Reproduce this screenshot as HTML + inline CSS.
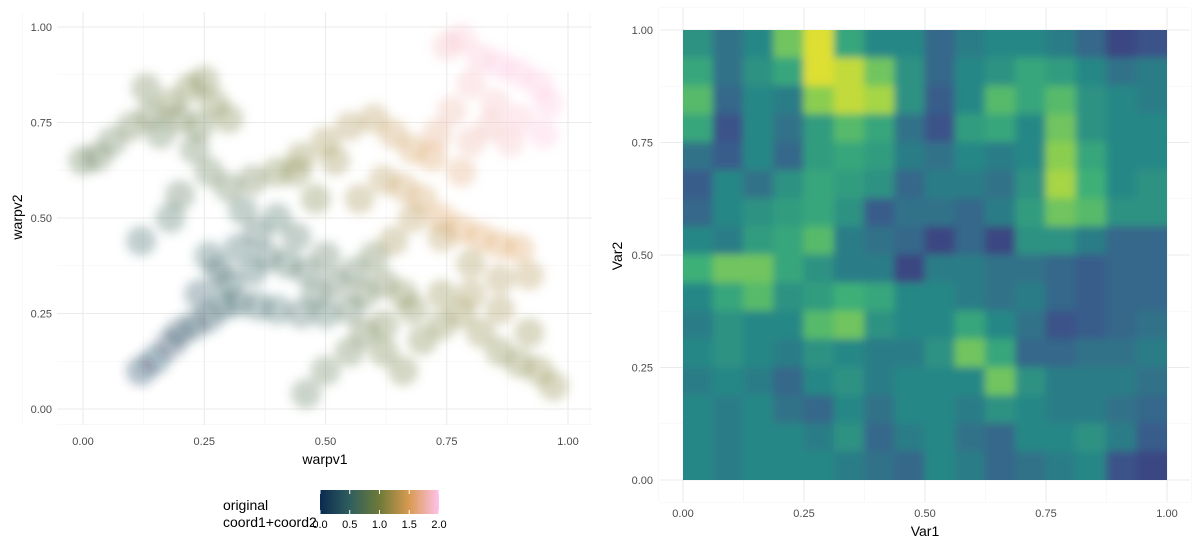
<!DOCTYPE html>
<html><head><meta charset="utf-8"><style>
body{margin:0;background:#fff;font-family:"Liberation Sans",sans-serif;}
svg{display:block}
text{font-family:"Liberation Sans",sans-serif}
</style></head><body>
<svg id="chart" width="1200" height="550">
<defs>
<filter id="blur" x="-0.05" y="-0.05" width="1.1" height="1.1"><feGaussianBlur stdDeviation="4"/></filter>
<filter id="pblur" x="-0.1" y="-0.1" width="1.2" height="1.2"><feGaussianBlur stdDeviation="5"/></filter>
<clipPath id="hmclip"><rect x="683" y="30" width="484" height="450"/></clipPath>
<linearGradient id="lg" x1="0" x2="1" y1="0" y2="0">
<stop offset="0" stop-color="#0b2a50"/><stop offset="0.25" stop-color="#2f5e5e"/><stop offset="0.5" stop-color="#6e7a38"/><stop offset="0.75" stop-color="#d99a52"/><stop offset="1" stop-color="#ffc2ea"/>
</linearGradient>
</defs>
<g id="left-grid"></g>
<g id="points" filter="url(#pblur)"></g>
<g id="left-axes"></g>
<g id="right-grid"></g>
<g clip-path="url(#hmclip)"><g id="heatbase"></g><g id="heat" filter="url(#blur)"></g></g>
<g id="right-axes"></g>
<g>
<text x="223" y="510" font-size="14" fill="#000">original</text>
<text x="223" y="527" font-size="14" fill="#000">coord1+coord2</text>
<rect x="320" y="490" width="119" height="24" fill="url(#lg)"/>
<g id="legend-ticks"></g>
</g>
</svg>
<script>
const NS="http://www.w3.org/2000/svg";
const xTicks=[0,0.25,0.5,0.75,1];
const xTickLabels=["0.00","0.25","0.50","0.75","1.00"];
const legendTicks=[0,0.5,1,1.5,2];
const legendLabels=["0.0","0.5","1.0","1.5","2.0"];
// scatter points: warpv1, warpv2, colour value
const ptX=[0.0,0.03,0.06,0.1,0.14,0.18,0.22,0.25,0.2,0.13,0.16,0.24,0.27,0.23,0.3,0.18,0.12,0.2,0.26,
0.12,0.15,0.18,0.2,0.23,0.26,0.29,0.32,0.36,0.4,0.45,0.5,0.55,0.58,0.62,0.66,
0.24,0.28,0.32,0.36,0.4,0.44,0.35,0.38,0.3,0.26,0.33,0.42,0.46,0.5,0.48,0.52,0.56,0.6,
0.3,0.35,0.4,0.45,0.5,0.55,0.6,0.64,0.68,0.72,0.62,0.57,0.48,0.44,0.52,
0.75,0.78,0.82,0.86,0.9,0.94,0.96,0.8,0.85,0.9,0.76,0.73,0.8,0.88,0.95,0.84,0.78,
0.66,0.7,0.74,0.78,0.82,0.86,0.9,0.92,0.86,0.8,0.74,0.68,0.64,
0.58,0.62,0.66,0.7,0.74,0.78,0.82,0.86,0.9,0.94,0.97,0.92,0.86,0.8,0.74,0.68,0.62,0.55,0.5,0.46];
const ptY=[0.65,0.66,0.7,0.74,0.77,0.8,0.84,0.86,0.76,0.84,0.72,0.74,0.8,0.68,0.76,0.5,0.44,0.56,0.62,
0.1,0.13,0.17,0.2,0.22,0.24,0.27,0.28,0.27,0.26,0.25,0.25,0.26,0.3,0.33,0.3,
0.3,0.36,0.42,0.46,0.5,0.45,0.36,0.4,0.33,0.4,0.52,0.38,0.36,0.4,0.3,0.33,0.36,0.4,
0.58,0.6,0.62,0.66,0.7,0.74,0.76,0.72,0.68,0.66,0.6,0.55,0.55,0.62,0.65,
0.95,0.97,0.92,0.9,0.88,0.85,0.8,0.85,0.8,0.76,0.78,0.72,0.7,0.7,0.72,0.74,0.62,
0.58,0.55,0.5,0.47,0.45,0.43,0.42,0.35,0.34,0.38,0.45,0.5,0.44,
0.2,0.15,0.1,0.18,0.22,0.25,0.2,0.15,0.12,0.1,0.06,0.2,0.26,0.3,0.3,0.26,0.22,0.15,0.1,0.04];
const ptC=[0.8,0.8,0.8,0.9,0.9,1.0,1.0,1.0,0.9,0.9,0.8,0.9,1.0,0.8,1.0,0.6,0.5,0.7,0.8,
0.05,0.1,0.15,0.2,0.25,0.3,0.35,0.4,0.45,0.5,0.55,0.6,0.7,0.8,0.9,1.0,
0.3,0.4,0.5,0.55,0.6,0.65,0.5,0.55,0.45,0.45,0.6,0.6,0.65,0.7,0.65,0.7,0.75,0.85,
0.8,0.9,1.0,1.1,1.2,1.25,1.3,1.4,1.45,1.5,1.3,1.2,1.0,1.05,1.15,
1.85,1.9,1.9,1.95,1.95,1.95,1.95,1.85,1.85,1.9,1.75,1.65,1.75,1.85,1.95,1.8,1.6,
1.4,1.45,1.5,1.5,1.5,1.5,1.5,1.3,1.25,1.2,1.3,1.3,1.2,
0.9,0.95,1.0,1.0,1.05,1.1,1.1,1.05,1.05,1.1,1.1,1.1,1.2,1.2,1.1,1.0,0.95,0.85,0.8,0.75];
// heatmap values, rows from top (Var2=1) to bottom, 16x16
const heatRows=[
[0.5,0.35,0.45,0.75,0.95,0.6,0.45,0.45,0.3,0.4,0.45,0.45,0.4,0.3,0.15,0.2],
[0.6,0.35,0.5,0.6,0.95,0.9,0.75,0.5,0.3,0.45,0.5,0.6,0.55,0.45,0.35,0.4],
[0.7,0.3,0.45,0.4,0.8,0.9,0.85,0.5,0.25,0.45,0.7,0.6,0.7,0.5,0.45,0.4],
[0.6,0.2,0.45,0.35,0.55,0.7,0.6,0.35,0.2,0.55,0.6,0.45,0.75,0.5,0.45,0.45],
[0.35,0.25,0.45,0.3,0.55,0.6,0.55,0.4,0.35,0.45,0.4,0.45,0.8,0.6,0.45,0.45],
[0.25,0.45,0.35,0.5,0.6,0.55,0.5,0.3,0.4,0.4,0.35,0.5,0.85,0.65,0.45,0.5],
[0.3,0.45,0.5,0.55,0.6,0.5,0.25,0.35,0.35,0.3,0.4,0.55,0.75,0.7,0.5,0.5],
[0.45,0.4,0.55,0.6,0.7,0.4,0.35,0.3,0.15,0.3,0.15,0.5,0.5,0.4,0.3,0.3],
[0.65,0.75,0.75,0.6,0.5,0.4,0.4,0.15,0.4,0.4,0.35,0.35,0.3,0.25,0.3,0.3],
[0.45,0.6,0.7,0.5,0.55,0.65,0.6,0.45,0.45,0.4,0.35,0.4,0.3,0.25,0.3,0.3],
[0.4,0.5,0.45,0.45,0.7,0.75,0.5,0.45,0.45,0.6,0.45,0.35,0.2,0.25,0.3,0.35],
[0.45,0.5,0.45,0.4,0.5,0.45,0.4,0.4,0.5,0.75,0.6,0.3,0.3,0.35,0.35,0.4],
[0.4,0.45,0.4,0.3,0.45,0.5,0.4,0.45,0.45,0.45,0.75,0.5,0.4,0.4,0.4,0.35],
[0.45,0.4,0.45,0.35,0.3,0.45,0.35,0.45,0.45,0.4,0.5,0.45,0.4,0.4,0.35,0.3],
[0.45,0.4,0.45,0.45,0.4,0.5,0.3,0.4,0.45,0.35,0.3,0.45,0.45,0.5,0.4,0.25],
[0.45,0.4,0.45,0.45,0.45,0.4,0.35,0.3,0.45,0.4,0.3,0.35,0.4,0.45,0.2,0.15]];

function mk(tag,attrs,parent){const e=document.createElementNS(NS,tag);for(const k in attrs)e.setAttribute(k,attrs[k]);parent.appendChild(e);return e;}
function lerpColor(stops,v){
  for(let i=1;i<stops.length;i++){if(v<=stops[i][0]||i==stops.length-1){const a=stops[i-1],b=stops[i];let t=(v-a[0])/(b[0]-a[0]);t=Math.max(0,Math.min(1,t));
    const c=[0,1,2].map(j=>Math.round(a[1][j]+(b[1][j]-a[1][j])*t));return `rgb(${c})`;}}
}
const heatStops=[[0,[62,40,108]],[0.22,[58,86,140]],[0.45,[40,136,134]],[0.65,[60,176,120]],[0.82,[150,210,75]],[1,[248,228,38]]];
const ptStops=[[0,[11,42,80]],[0.5,[47,94,94]],[1,[110,122,56]],[1.5,[217,154,82]],[2,[255,194,234]]];

const lx=v=>83+v*485, ly=v=>409-v*382;
const lg=document.getElementById('left-grid');
for(const t of [-0.125,0.125,0.375,0.625,0.875,1.045]){const l=mk('line',{x1:lx(t),x2:lx(t),y1:12,y2:425,stroke:'#f3f3f3','stroke-width':0.6},lg);}
for(const t of [-0.04,0.125,0.375,0.625,0.875]){const l=mk('line',{y1:ly(t),y2:ly(t),x1:57,x2:592,stroke:'#f3f3f3','stroke-width':0.6},lg);}
xTicks.forEach((t,i)=>{
  const a=mk('line',{x1:lx(t),x2:lx(t),y1:12,y2:425,stroke:'#ebebeb','stroke-width':1.1},lg);
  const b=mk('line',{y1:ly(t),y2:ly(t),x1:57,x2:592,stroke:'#ebebeb','stroke-width':1.1},lg);
});
const la=document.getElementById('left-axes');
xTicks.forEach((t,i)=>{
  const a=mk('text',{x:lx(t),y:445,'font-size':11,fill:'#4d4d4d','text-anchor':'middle'},la);a.textContent=xTickLabels[i];
  const b=mk('text',{x:52,y:ly(t)+4,'font-size':11,fill:'#4d4d4d','text-anchor':'end'},la);b.textContent=xTickLabels[i];
});
let tt=mk('text',{x:325,y:464,'font-size':14,'text-anchor':'middle'},la);tt.textContent='warpv1';
tt=mk('text',{x:22,y:217,'font-size':14,'text-anchor':'middle',transform:'rotate(-90 22 217)'},la);tt.textContent='warpv2';

const pg=document.getElementById('points');
for(let i=0;i<ptX.length;i++){
  const c=mk('circle',{cx:lx(ptX[i]),cy:ly(ptY[i]),r:15,fill:lerpColor(ptStops,ptC[i]),'fill-opacity':0.3},pg);
  
  
}

const rx=v=>683+v*484, ry=v=>480-v*450;
const rg=document.getElementById('right-grid');
for(const t of [-0.05,0.125,0.375,0.625,0.875,1.05]){const l=mk('line',{x1:rx(t),x2:rx(t),y1:8,y2:502,stroke:'#f3f3f3','stroke-width':0.6},rg);
  const m=mk('line',{y1:ry(t),y2:ry(t),x1:660,x2:1190,stroke:'#f3f3f3','stroke-width':0.6},rg);}
xTicks.forEach(t=>{
  const a=mk('line',{x1:rx(t),x2:rx(t),y1:8,y2:502,stroke:'#ebebeb','stroke-width':1.1},rg);
  const b=mk('line',{y1:ry(t),y2:ry(t),x1:660,x2:1190,stroke:'#ebebeb','stroke-width':1.1},rg);
});
const hb=document.getElementById('heatbase');
const hg=document.getElementById('heat');
const nR=heatRows.length,nC=heatRows[0].length;
for(const grp of [hb,hg]){
for(let r=0;r<nR;r++)for(let c=0;c<nC;c++){
  const x0=rx(c/nC),x1=rx((c+1)/nC),y0=ry(1-r/nR),y1=ry(1-(r+1)/nR);
  // extend edge cells outward so blur does not fade at the border
  const ex0=c==0?x0-20:x0, ex1=c==nC-1?x1+20:x1, ey0=r==0?y0-20:y0, ey1=r==nR-1?y1+20:y1;
  const e=mk('rect',{x:ex0-0.5,y:ey0-0.5,width:ex1-ex0+1,height:ey1-ey0+1,fill:lerpColor(heatStops,heatRows[r][c])},grp);
  
  
}}
const ra=document.getElementById('right-axes');
xTicks.forEach((t,i)=>{
  const a=mk('text',{x:rx(t),y:517,'font-size':11,fill:'#4d4d4d','text-anchor':'middle'},ra);a.textContent=xTickLabels[i];
  const b=mk('text',{x:653,y:ry(t)+4,'font-size':11,fill:'#4d4d4d','text-anchor':'end'},ra);b.textContent=xTickLabels[i];
});
tt=mk('text',{x:925,y:536,'font-size':14,'text-anchor':'middle'},ra);tt.textContent='Var1';
tt=mk('text',{x:622,y:256,'font-size':14,'text-anchor':'middle',transform:'rotate(-90 622 256)'},ra);tt.textContent='Var2';

const lt=document.getElementById('legend-ticks');
const lgx=v=>320+v/2*119;
legendTicks.forEach((t,i)=>{
  const a=mk('line',{x1:lgx(t),x2:lgx(t),y1:490,y2:494,stroke:'#fff','stroke-width':1},lt);
  const b=mk('line',{x1:lgx(t),x2:lgx(t),y1:510,y2:514,stroke:'#fff','stroke-width':1},lt);
  const l=mk('text',{x:lgx(t),y:528,'font-size':11,fill:'#000','text-anchor':'middle'},lt);l.textContent=legendLabels[i];
});
</script>
</body></html>
